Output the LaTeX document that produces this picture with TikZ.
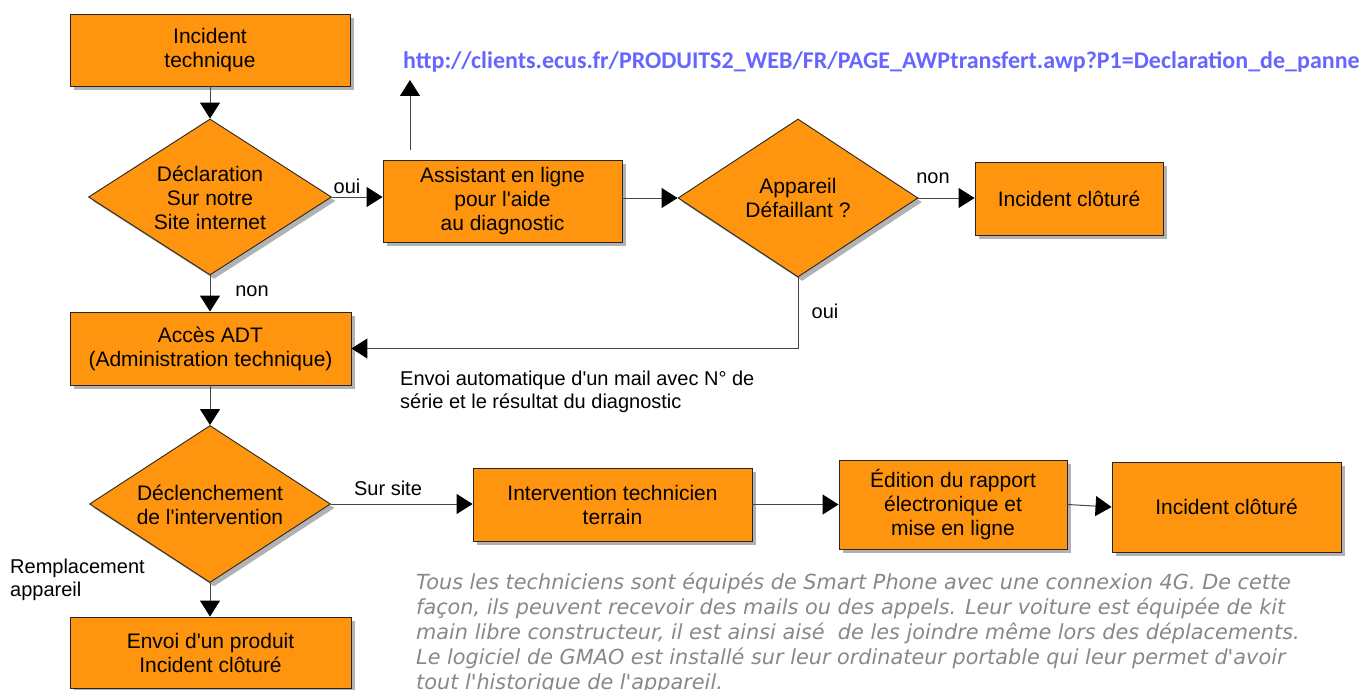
\documentclass[tikz,border=0pt]{standalone}
\usepackage{fontspec}
\setmainfont{Liberation Sans}
\newfontfamily\lib{Liberation Sans}
\newfontfamily\carl{Carlito}
\newfontfamily\dvs{DejaVu Sans}
\usetikzlibrary{shapes.geometric,arrows.meta,shadows}
\definecolor{orangeC}{RGB}{255,149,14}
\definecolor{urlC}{RGB}{102,102,255}
\definecolor{noteC}{RGB}{136,136,136}
\definecolor{lineC}{RGB}{70,70,70}
\tikzset{
  shd/.style={drop shadow={shadow xshift=4pt,shadow yshift=-4pt,fill=black!30,opacity=1}},
  boxx/.style={draw=black!85,line width=0.9pt,fill=orangeC,shd,inner sep=0pt,align=center,
    font=\lib\fontsize{21}{24}\selectfont},
  dia/.style={diamond,draw=black!85,line width=0.9pt,fill=orangeC,shd,inner sep=0pt},
  dtext/.style={align=center,inner sep=0pt,font=\lib\fontsize{21}{24}\selectfont},
  lbl/.style={inner sep=0pt,font=\lib\fontsize{20}{23}\selectfont,align=left},
  conn/.style={draw=lineC,line width=1pt,-{Triangle[length=16pt,width=20pt,color=black]}}
}
\begin{document}
\begin{tikzpicture}[x=1pt,y=-1pt]
\useasboundingbox (0,0) rectangle (1360,690);
% boxes
\node[boxx,minimum width=280,minimum height=72] (b1) at (210,50) {Incident\\technique};
\node[boxx,minimum width=239,minimum height=82] (b2) at (502.5,201) {Assistant en ligne\\pour l'aide\\au diagnostic};
\node[boxx,minimum width=188,minimum height=73] (b3) at (1069,198.5) {Incident clôturé};
\node[boxx,minimum width=281,minimum height=73] (b4) at (210.5,348.5) {Accès ADT\\(Administration technique)};
\node[boxx,minimum width=279,minimum height=73] (b5) at (612.5,504.5) {Intervention technicien\\terrain};
\node[boxx,minimum width=228,minimum height=89] (b6) at (953,504.5) {Édition du rapport\\électronique et\\mise en ligne};
\node[boxx,minimum width=229,minimum height=90] (b7) at (1226.5,507) {Incident clôturé};
\node[boxx,minimum width=281,minimum height=71] (b8) at (210.5,652.5) {Envoi d'un produit\\Incident clôturé};
% diamonds
\node[dia,minimum width=243,minimum height=156] (d1) at (210,197) {};
\node[dtext] (d1t) at (210,198) {Déclaration\\Sur notre\\Site internet};
\node[dia,minimum width=240,minimum height=158] (d2) at (798,198) {};
\node[dtext] (d2t) at (798,198) {Appareil\\Défaillant ?};
\node[dia,minimum width=241,minimum height=157] (d3) at (210,504) {};
\node[dtext] (d3t) at (210,505) {Déclenchement\\de l'intervention};
% free coordinates
\coordinate (u1) at (410,150);
\coordinate (u2) at (410,80);
% connectors
\draw[conn] (b1.south) -- (d1.north);
\draw[conn] (d1.east) -- (d1.east -| b2.west);
\draw[conn] (u1) -- (u2);
\draw[conn] (b2.east |- d2.west) -- (d2.west);
\draw[conn] (d2.east) -- (d2.east -| b3.west);
\draw[conn] (d2.south) |- (b4.east);
\draw[conn] (d1.south) -- (d1.south |- b4.north);
\draw[conn] (b4.south -| d3.north) -- (d3.north);
\draw[conn] (d3.east) -- (d3.east -| b5.west);
\draw[conn] (b5.east) -- (b6.west);
\draw[conn] (b6.east) -- (b7.west);
\draw[conn] (d3.south) -- (d3.south |- b8.north);
% labels
\node[lbl] (l1) at (347,186) {oui};
\node[lbl] (l2) at (933,178) {non};
\node[lbl] (l3) at (825,311) {oui};
\node[lbl] (l4) at (252,291) {non};
\node[lbl] (l5) at (388,488) {Sur site};
\node[lbl,anchor=west] (l6) at (10,579.5) {Remplacement\\appareil};
\node[lbl,anchor=west] (l7) at (400,392) {Envoi automatique d'un mail avec N° de\\série et le résultat du diagnostic};
\node[anchor=west,inner sep=0pt,text=urlC,font=\carl\bfseries\fontsize{24}{27}\selectfont] (url) at (403,62)
  {http://clients.ecus.fr/PRODUITS2\_WEB/FR/PAGE\_AWPtransfert.awp?P1=Declaration\_de\_panne};
\node[anchor=north west,inner sep=0pt,align=left,text=noteC,font=\dvs\itshape\fontsize{20.8}{25}\selectfont] (note) at (416,573)
  {Tous les techniciens sont équipés de Smart Phone avec une connexion 4G. De cette\\
   façon, ils peuvent recevoir des mails ou des appels. Leur voiture est équipée de kit\\
   main libre constructeur, il est ainsi aisé\ \ de les joindre même lors des déplacements.\\
   Le logiciel de GMAO est installé sur leur ordinateur portable qui leur permet d'avoir\\
   tout l'historique de l'appareil.};
\end{tikzpicture}
\end{document}
